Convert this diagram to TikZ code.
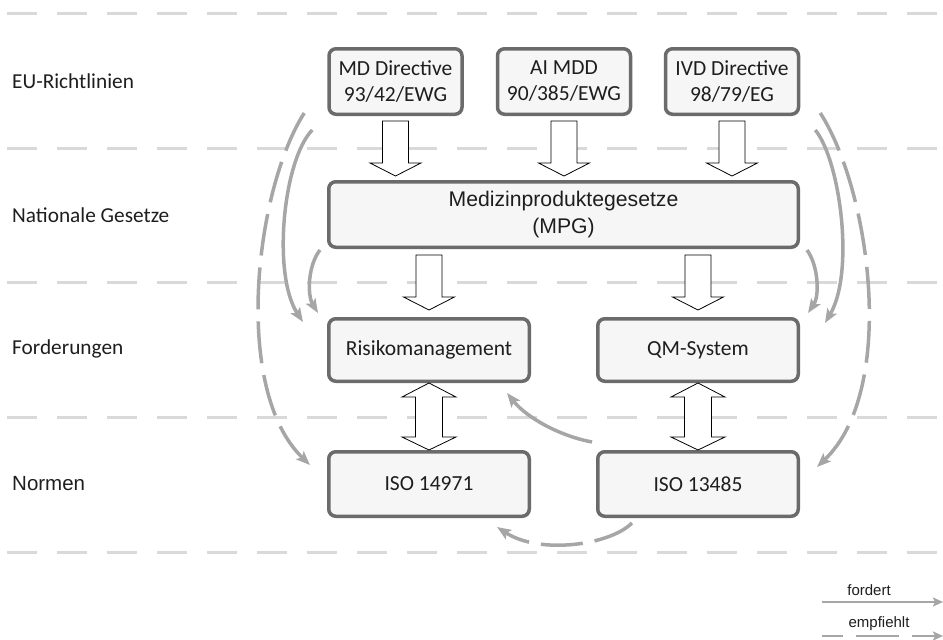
\documentclass[tikz,border=0pt]{standalone}
\usepackage{fontspec}
\setmainfont{Carlito}
\newfontfamily\arialf{Liberation Sans}
\usetikzlibrary{arrows.meta,calc}
\definecolor{boxborder}{HTML}{6B6B6B}
\definecolor{boxfill}{HTML}{F6F6F6}
\definecolor{gridline}{HTML}{D9D9D9}
\definecolor{conn}{HTML}{A6A6A6}
\definecolor{txt}{HTML}{1E1E1E}
\newcommand\downblock[2]{%
  \draw[blockarr] ($(#1)+(-13,0)$) -- ($(#1)+(13,0)$) -- ($(#2)+(13,-13)$) -- ($(#2)+(25.5,-13)$) -- (#2)
    -- ($(#2)+(-25.5,-13)$) -- ($(#2)+(-13,-13)$) -- cycle;}
\newcommand\dblblock[2]{%
  \draw[blockarr] (#1) -- ($(#1)+(27,14)$) -- ($(#1)+(13.5,14)$) -- ($(#2)+(13.5,-13)$) -- ($(#2)+(27,-13)$) -- (#2)
    -- ($(#2)+(-27,-13)$) -- ($(#2)+(-13.5,-13)$) -- ($(#1)+(-13.5,14)$) -- ($(#1)+(-27,14)$) -- cycle;}
\begin{document}
\begin{tikzpicture}[x=1pt,y=-1pt,
  box/.style={draw=boxborder, line width=3.5pt, fill=boxfill, rounded corners=7pt, inner sep=0pt,
    text=txt, align=center, font=\fontsize{21.5}{26}\selectfont},
  layerline/.style={gridline, line width=3pt, dash pattern=on 30pt off 20pt},
  levellabel/.style={anchor=west, inner sep=0pt, text=txt, font=\fontsize{21.3}{24}\selectfont},
  legendtext/.style={inner sep=0pt, text=txt, font=\arialf\fontsize{15}{18}\selectfont},
  fordert/.style={conn, line width=3.5pt, -{Stealth[length=14pt,width=11pt,inset=3pt]}},
  empfiehlt/.style={fordert, dash pattern=on 42pt off 12pt},
  fordertleg/.style={conn, line width=2.5pt, -{Stealth[length=10pt,width=9pt,inset=2pt]}},
  empfiehltleg/.style={fordertleg, dash pattern=on 43pt off 13pt, dash phase=22pt},
  blockarr/.style={draw=black, line width=0.8pt, fill=white, line join=miter},
]
\useasboundingbox (0,0) rectangle (943,640);

% layer separators
\foreach \yy in {13,148,282,417,552}
  \draw[layerline] (7,\yy) -- (943,\yy);

% level labels
\node[levellabel] (lEU) at (12,81) {EU-Richtlinien};
\node[levellabel] (lNat) at (12,215) {Nationale Gesetze};
\node[levellabel] (lFord) at (12,349) {Forderungen};
\node[levellabel, font=\arialf\fontsize{20.5}{24}\selectfont] (lNorm) at (12,484) {Normen};

% boxes
\node[box, minimum width=133, minimum height=65.5] (md) at (395.5,81.5) {MD Directive\\93/42/EWG};
\node[box, minimum width=133, minimum height=65.5] (ai) at (564,81.5) {AI MDD\\90/385/EWG};
\node[box, minimum width=133, minimum height=65.5] (ivd) at (732,81.5) {IVD Directive\\98/79/EG};
\node[box, minimum width=469.5, minimum height=65.5, font=\arialf\fontsize{21.2}{27}\selectfont] (mpg) at (563.5,214.5) {Medizinproduktegesetze\\(MPG)};
\node[box, minimum width=200.5, minimum height=62.5] (risk) at (429,350) {Risikomanagement};
\node[box, minimum width=200.5, minimum height=62.5] (qm) at (698,350) {QM-System};
\node[box, minimum width=200.5, minimum height=64.5] (iso1) at (429,484) {ISO 14971};
\node[box, minimum width=200.5, minimum height=64.5] (iso2) at (698,484) {ISO 13485};

% block arrows
\coordinate (a1s) at ($(md.south)+(0,5)$);
\coordinate (a1e) at ($(md.south |- mpg.north)+(0,-4)$);
\coordinate (a2s) at ($(ai.south)+(0,5)$);
\coordinate (a2e) at ($(ai.south |- mpg.north)+(0,-4)$);
\coordinate (a3s) at ($(ivd.south)+(0,5)$);
\coordinate (a3e) at ($(ivd.south |- mpg.north)+(0,-4)$);
\coordinate (a4s) at ($(risk.north |- mpg.south)+(0,6)$);
\coordinate (a4e) at ($(risk.north)+(0,-7)$);
\coordinate (a5s) at ($(qm.north |- mpg.south)+(0,6)$);
\coordinate (a5e) at ($(qm.north)+(0,-7)$);
\downblock{a1s}{a1e}
\downblock{a2s}{a2e}
\downblock{a3s}{a3e}
\downblock{a4s}{a4e}
\downblock{a5s}{a5e}
\dblblock{risk.south}{iso1.north}
\dblblock{qm.south}{iso2.north}

% curved connectors, left
\draw[fordert] ($(md.south west)+(-15,14)$) .. controls (283,160) and (272,275) .. ($(risk.north west)+(-24,5)$);
\draw[fordert] ($(mpg.south west)+(-7,1)$) .. controls (308,265) and (307,295) .. ($(risk.north west)+(-9,-4)$);
\draw[empfiehlt] ($(md.south west)+(-23,-3)$) .. controls (255,190) and (232,390) .. ($(iso1.north west)+(-17,15)$);
% curved connectors, right
\draw[fordert] ($(ivd.south east)+(15,14)$) .. controls (840,160) and (855,272) .. ($(qm.north east)+(25,6)$);
\draw[fordert] ($(mpg.south east)+(7,1)$) .. controls (818,265) and (820,295) .. ($(qm.north east)+(8,-4)$);
\draw[empfiehlt] ($(ivd.south east)+(20,-3)$) .. controls (870,190) and (898,390) .. ($(iso2.north east)+(17,17)$);
% middle and bottom
\draw[fordert] ($(iso2.north west)+(-4,-8)$) .. controls (560,436) and (527,418) .. ($(risk.south east)+(-24,10)$);
\draw[empfiehlt] ($(iso2.south west)+(36,5)$) .. controls (610,545) and (540,555) .. ($(iso1.south east)+(-34,9)$);

% legend
\node[legendtext] (lgf) at (869,590) {fordert};
\node[legendtext] (lge) at (879,624) {empfiehlt};
\coordinate (lf1) at (822,602);
\coordinate (lf2) at (943,602);
\coordinate (le1) at (822,636);
\coordinate (le2) at (943,636);
\draw[fordertleg] (lf1) -- (lf2);
\draw[empfiehltleg] (le1) -- (le2);
\end{tikzpicture}
\end{document}
